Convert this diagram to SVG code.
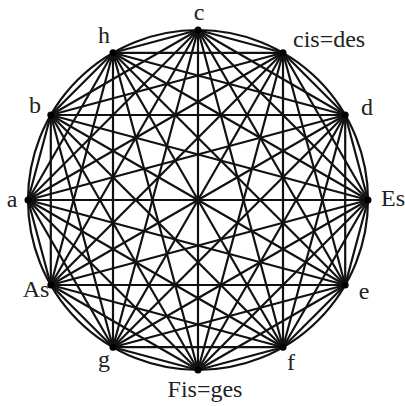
<svg xmlns="http://www.w3.org/2000/svg" width="405" height="406" viewBox="0 0 405 406">
<style>
.e{stroke:#111;stroke-width:2.2;fill:none;stroke-linecap:round}
.d{fill:#000}
.t{font-family:"Liberation Serif","Times New Roman",serif;font-size:24px;fill:#222}
</style>
<rect width="405" height="406" fill="#fff"/>
<g id="connectors" class="e">
<circle cx="198" cy="200" r="170"/>
<line x1="198" y1="30" x2="283" y2="52.8"/><line x1="198" y1="30" x2="345.2" y2="115"/><line x1="198" y1="30" x2="368" y2="200"/><line x1="198" y1="30" x2="345.2" y2="285"/><line x1="198" y1="30" x2="283" y2="347.2"/><line x1="198" y1="30" x2="198" y2="370"/><line x1="198" y1="30" x2="113" y2="347.2"/><line x1="198" y1="30" x2="50.8" y2="285"/><line x1="198" y1="30" x2="28" y2="200"/><line x1="198" y1="30" x2="50.8" y2="115"/><line x1="198" y1="30" x2="113" y2="52.8"/>
<line x1="283" y1="52.8" x2="345.2" y2="115"/><line x1="283" y1="52.8" x2="368" y2="200"/><line x1="283" y1="52.8" x2="345.2" y2="285"/><line x1="283" y1="52.8" x2="283" y2="347.2"/><line x1="283" y1="52.8" x2="198" y2="370"/><line x1="283" y1="52.8" x2="113" y2="347.2"/><line x1="283" y1="52.8" x2="50.8" y2="285"/><line x1="283" y1="52.8" x2="28" y2="200"/><line x1="283" y1="52.8" x2="50.8" y2="115"/><line x1="283" y1="52.8" x2="113" y2="52.8"/>
<line x1="345.2" y1="115" x2="368" y2="200"/><line x1="345.2" y1="115" x2="345.2" y2="285"/><line x1="345.2" y1="115" x2="283" y2="347.2"/><line x1="345.2" y1="115" x2="198" y2="370"/><line x1="345.2" y1="115" x2="113" y2="347.2"/><line x1="345.2" y1="115" x2="50.8" y2="285"/><line x1="345.2" y1="115" x2="28" y2="200"/><line x1="345.2" y1="115" x2="50.8" y2="115"/><line x1="345.2" y1="115" x2="113" y2="52.8"/>
<line x1="368" y1="200" x2="345.2" y2="285"/><line x1="368" y1="200" x2="283" y2="347.2"/><line x1="368" y1="200" x2="198" y2="370"/><line x1="368" y1="200" x2="113" y2="347.2"/><line x1="368" y1="200" x2="50.8" y2="285"/><line x1="368" y1="200" x2="28" y2="200"/><line x1="368" y1="200" x2="50.8" y2="115"/><line x1="368" y1="200" x2="113" y2="52.8"/>
<line x1="345.2" y1="285" x2="283" y2="347.2"/><line x1="345.2" y1="285" x2="198" y2="370"/><line x1="345.2" y1="285" x2="113" y2="347.2"/><line x1="345.2" y1="285" x2="50.8" y2="285"/><line x1="345.2" y1="285" x2="28" y2="200"/><line x1="345.2" y1="285" x2="50.8" y2="115"/><line x1="345.2" y1="285" x2="113" y2="52.8"/>
<line x1="283" y1="347.2" x2="198" y2="370"/><line x1="283" y1="347.2" x2="113" y2="347.2"/><line x1="283" y1="347.2" x2="50.8" y2="285"/><line x1="283" y1="347.2" x2="28" y2="200"/><line x1="283" y1="347.2" x2="50.8" y2="115"/><line x1="283" y1="347.2" x2="113" y2="52.8"/>
<line x1="198" y1="370" x2="113" y2="347.2"/><line x1="198" y1="370" x2="50.8" y2="285"/><line x1="198" y1="370" x2="28" y2="200"/><line x1="198" y1="370" x2="50.8" y2="115"/><line x1="198" y1="370" x2="113" y2="52.8"/>
<line x1="113" y1="347.2" x2="50.8" y2="285"/><line x1="113" y1="347.2" x2="28" y2="200"/><line x1="113" y1="347.2" x2="50.8" y2="115"/><line x1="113" y1="347.2" x2="113" y2="52.8"/>
<line x1="50.8" y1="285" x2="28" y2="200"/><line x1="50.8" y1="285" x2="50.8" y2="115"/><line x1="50.8" y1="285" x2="113" y2="52.8"/>
<line x1="28" y1="200" x2="50.8" y2="115"/><line x1="28" y1="200" x2="113" y2="52.8"/>
<line x1="50.8" y1="115" x2="113" y2="52.8"/>
</g>
<g id="n-c"><circle class="d" cx="198" cy="30" r="3.5"/><text class="t" x="199" y="20" text-anchor="middle">c</text></g>
<g id="n-cis"><circle class="d" cx="283" cy="52.8" r="3.5"/><text class="t" x="293" y="47">cis=des</text></g>
<g id="n-d"><circle class="d" cx="345.2" cy="115" r="3.5"/><text class="t" x="367" y="115" text-anchor="middle">d</text></g>
<g id="n-es"><circle class="d" cx="368" cy="200" r="3.5"/><text class="t" x="381" y="206">Es</text></g>
<g id="n-e"><circle class="d" cx="345.2" cy="285" r="3.5"/><text class="t" x="364" y="299" text-anchor="middle">e</text></g>
<g id="n-f"><circle class="d" cx="283" cy="347.2" r="3.5"/><text class="t" x="291" y="370" text-anchor="middle">f</text></g>
<g id="n-fis"><circle class="d" cx="198" cy="370" r="3.5"/><text class="t" x="205" y="397" text-anchor="middle">Fis=ges</text></g>
<g id="n-g"><circle class="d" cx="113" cy="347.2" r="3.5"/><text class="t" x="104" y="367" text-anchor="middle">g</text></g>
<g id="n-as"><circle class="d" cx="50.8" cy="285" r="3.5"/><text class="t" x="36" y="297" text-anchor="middle">As</text></g>
<g id="n-a"><circle class="d" cx="28" cy="200" r="3.5"/><text class="t" x="12" y="207" text-anchor="middle">a</text></g>
<g id="n-b"><circle class="d" cx="50.8" cy="115" r="3.5"/><text class="t" x="35" y="113" text-anchor="middle">b</text></g>
<g id="n-h"><circle class="d" cx="113" cy="52.8" r="3.5"/><text class="t" x="104" y="43" text-anchor="middle">h</text></g>
</svg>
